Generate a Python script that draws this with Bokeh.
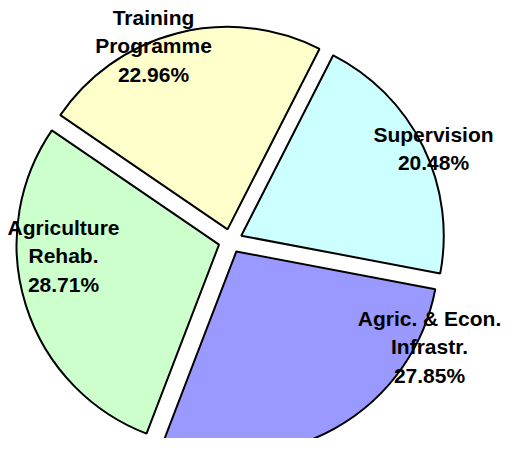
import math
from bokeh.plotting import figure
from bokeh.models import Range1d, ColumnDataSource
from bokeh.core.properties import value
from bokeh.embed import file_html
from bokeh.resources import INLINE

# ---- data ----
categories = ["Supervision", "Agric. & Econ. Infrastr.", "Agriculture Rehab.", "Training Programme"]
label_lines = [["Supervision"], ["Agric. & Econ.", "Infrastr."], ["Agriculture", "Rehab."], ["Training", "Programme"]]
shares = [20.48, 27.85, 28.71, 22.96]
colors = ["#CCFFFF", "#9999FF", "#CCFFCC", "#FFFFCC"]

# ---- layout (pixels; picture coordinates mapped 1:1) ----
W, H = 507, 438
CX, CY = 230.0, 454 - 240.5      # pie centre in data units (y up)
R = 202.5
EXPLODE = 12.0
START_CW_FROM_TOP = 27.0         # first slice starts here, clockwise
# label anchor offsets (dx, dy of first baseline) from pie centre, screen px (y down)
label_offsets = [(203, -106.8), (199, 77.5), (-167, -13.5), (-77, -223.5)]
LINE_H = 28.3

p = figure(width=W, height=H, output_backend="svg", toolbar_location=None,
           x_range=Range1d(0, W), y_range=Range1d(454 - H, 454),
           min_border=0)
p.axis.visible = False
p.grid.visible = False
p.outline_line_color = None
p.background_fill_color = "white"
p.border_fill_color = "white"

total = sum(shares)
xs, ys, sa, ea = [], [], [], []
theta = START_CW_FROM_TOP
for s in shares:
    span = 360.0 * s / total
    t0, t1 = theta, theta + span
    mid = (t0 + t1) / 2
    a0 = math.radians(90 - t0)
    a1 = math.radians(90 - t1)
    am = math.radians(90 - mid)
    xs.append(CX + EXPLODE * math.cos(am))
    ys.append(CY + EXPLODE * math.sin(am))
    sa.append(a0)
    ea.append(a1)
    theta = t1

src = ColumnDataSource(dict(x=xs, y=ys, start=sa, end=ea, color=colors))
p.wedge(x="x", y="y", radius=R, start_angle="start", end_angle="end",
        direction="clock", fill_color="color", line_color="black",
        line_width=2, source=src)

tx, ty, tt = [], [], []
for lines, s, (dx, dy) in zip(label_lines, shares, label_offsets):
    all_lines = lines + ["%.2f%%" % s]
    for i, ln in enumerate(all_lines):
        tx.append(CX + dx)
        ty.append(CY - (dy + i * LINE_H))
        tt.append(ln)

p.text(x=tx, y=ty, text=tt, text_font=value("Liberation Sans"),
       text_font_style="bold", text_font_size="21px", text_color="black",
       text_align="center", text_baseline="alphabetic")

open("out.html", "w").write(file_html(p, INLINE))
